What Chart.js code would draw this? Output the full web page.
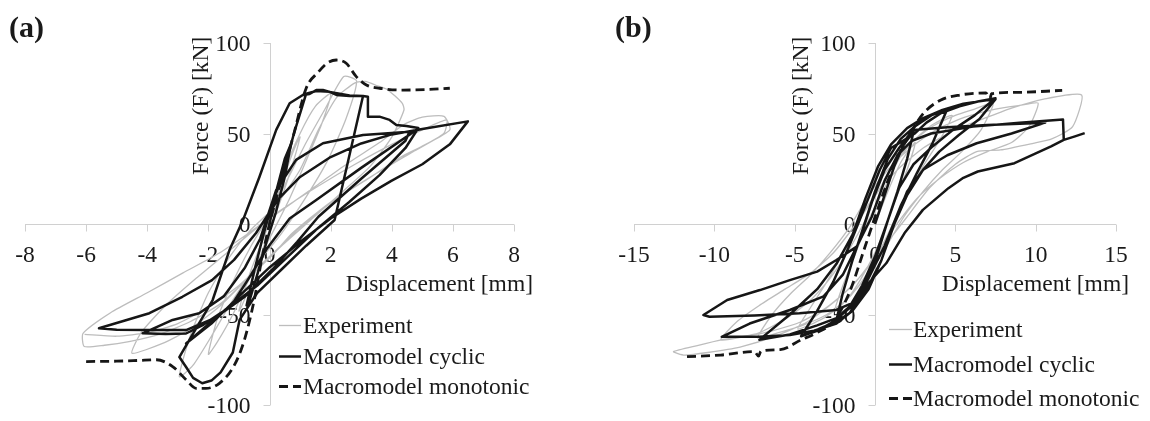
<!DOCTYPE html>
<html>
<head>
<meta charset="utf-8">
<script src="https://cdn.jsdelivr.net/npm/chart.js@4.4.1/dist/chart.umd.min.js"></script>
<style>
  html, body { margin: 0; padding: 0; background: #fff; }
  #wrap { position: relative; width: 1150px; height: 421px; overflow: hidden; }
  .panel { position: absolute; top: 0; width: 575px; height: 421px; }
</style>
</head>
<body>
<div id="wrap">
  <div class="panel" style="left:0"><canvas id="chartA" width="575" height="421"></canvas></div>
  <div class="panel" style="left:575px"><canvas id="chartB" width="575" height="421"></canvas></div>
</div>
<script>
// ---- data: [displacement mm, force kN] ----
const seriesLabels = ['Experiment', 'Macromodel cyclic', 'Macromodel monotonic'];
const forceTicks = [-100, -50, 0, 50, 100];
const dispTicksA = [-8, -6, -4, -2, 0, 2, 4, 6, 8];
const dispTicksB = [-15, -10, -5, 0, 5, 10, 15];

// panel (a)
const expA = [
  [0,0],[0.3,15],[0.6,32],[0.9,45],[1.0,48],[0.7,30],[0.3,10],[-0.1,-8],[-0.5,-28],[-0.9,-45],[-1.0,-48],[-0.7,-30],[-0.3,-12],[0.1,5],
  [0.5,30],[1.0,50],[1.5,65],[2.0,72],[1.7,55],[1.2,35],[0.6,12],[0,-8],[-0.6,-28],[-1.2,-50],[-1.7,-65],[-2.0,-72],[-1.7,-52],[-1.2,-32],[-0.6,-12],[0,5],
  [0.6,25],[1.2,45],[1.8,63],[2.43,81.5],[2.85,79],[2.5,58],[1.9,35],[1.2,15],[0.4,-5],[-0.4,-22],[-1.2,-42],[-1.9,-62],[-2.5,-78],[-2.95,-84.4],[-2.6,-62],[-2.0,-38],[-1.3,-18],[-0.6,-3],[0.2,10],
  [1.0,30],[1.6,52],[2.2,70],[2.8,78],[3.14,78.8],[3.5,76.5],[3.86,74.2],[4.34,66.8],[4.4,63],[4.0,48],[3.3,32],[2.4,18],[1.4,3],[0.4,-12],[-0.6,-28],[-1.6,-45],[-2.6,-58],[-3.5,-66],[-4.5,-71.4],[-4.2,-60],[-3.4,-45],[-2.4,-30],[-1.4,-16],[-0.4,-2],[0.6,10],
  [1.6,22],[2.6,34],[3.6,45],[4.4,55],[5.0,59],[5.71,59.5],[5.9,52],[5.0,43],[4.3,37],[3.14,24],[1.95,11.5],[0.75,-5],[0.16,-16],[-0.7,-30],[-1.6,-44],[-2.6,-54],[-3.6,-61],[-4.6,-65],[-5.4,-67],[-6.06,-67.7],[-6.1,-60.4],[-5.2,-49],[-4.0,-38],[-2.83,-27],[-1.64,-16],[-0.68,-5],[0.4,8],[1.6,21],[2.8,33],[4.0,44],[5.0,52],[5.8,57.5],[5.7,50],[4.7,40],[3.5,28],[2.2,14],[1.0,-2],[0.0,-18],[-1.0,-34],[-2.0,-46],[-3.0,-55],[-4.0,-60],[-5.0,-62],[-6.05,-61]
];
const cyclicA = [
  [0,0],[0.25,20],[0.5,36],[0.7,44],[0.5,26],[0.2,6],[-0.1,-10],[-0.4,-28],[-0.65,-42],[-0.75,-45],[-0.5,-26],[-0.2,-6],
  [0.1,12],[0.4,25],[0.8,50],[1.2,72],[1.53,73.5],[1.97,73],[2.62,71],[3.06,70.7],
  [2.13,2.2],[1.2,-12],[0.4,-25],[-0.4,-38],[-0.98,-53],[-1.2,-71],[-1.6,-82],[-1.9,-86.5],[-2.2,-88],[-2.5,-85],[-2.73,-79],[-2.95,-73.5],
  [-1.86,-42],[-1.31,-14.4],[-0.87,2],[-0.33,26],[0.22,52],[0.66,66.7],[1.09,71.3],[1.31,71.8],[1.53,74],[1.75,74],[1.97,73],[2.19,71.3],[2.62,70.7],[3.06,70.7],[3.22,70.3],[3.22,59.3],[3.6,59.3],[3.93,57.5],[4.15,54.7],[4.48,54.1],[4.87,53],
  [4.45,42],[3.6,27],[2.6,12],[1.6,-2],[0.6,-18],[-0.4,-34],[-1.4,-47],[-2.2,-56],[-2.73,-60.5],[-3.4,-60.8],[-4.15,-60.4],
  [-3.17,-53],[-2.3,-49.3],[-1.5,-40],[-0.8,-24],[-0.3,-8],[0.22,18.8],[0.87,35.4],[1.75,44.6],[3.06,49.2],[4.58,51],
  [4.45,46],[3.0,25],[1.6,4],[0.9,-10],[0.1,-25],[-0.8,-40],[-1.8,-52],[-2.73,-58.6],[-4.0,-58.6],[-5.0,-58.4],[-5.58,-57.6],
  [-3.93,-49.3],[-2.85,-40.2],[-1.88,-31],[-1.16,-19.8],[-0.44,-5],[0.27,13.4],[1.0,26],[2.0,37],[3.0,44.5],[4.0,49.5],[5.0,52.5],[6.49,56.7],
  [5.9,44],[5.0,33],[4.0,24],[3.0,14],[2.0,3],[1.0,-10],[0.0,-24],[-1.0,-40],[-1.9,-55],[-2.73,-66],
  [-1.2,-43.8],[-0.6,-28],[-0.1,-14],[0.66,3],[1.53,13.3],[3.0,31],[4.48,48.2],[4.8,52]
];
const monoA = [
  [-6.0,-76],[-5.0,-75.8],[-4.3,-75.4],[-3.7,-75],[-3.17,-78.8],[-2.73,-86],[-2.4,-90.8],[-2.08,-90.8],[-1.64,-88],[-1.15,-78],[-0.82,-64],[-0.5,-42],[-0.26,-20],
  [0,0],[0.4,25],[0.8,50],[1.2,75],[1.6,84],[1.9,89],[2.19,90.6],[2.51,88.8],[2.84,81.4],[3.17,76.8],[3.6,75],[4.36,74],[5.2,74.3],[5.9,75]
];

// panel (b)
const expB = [
  [0,0],[0.8,18],[1.6,34],[2.5,45],[2.0,30],[1.2,12],[0.4,-8],[-0.6,-26],[-1.6,-40],[-2.5,-48],[-2.0,-34],[-1.2,-16],[-0.4,2],
  [0.5,18],[1.5,36],[2.5,47],[3.6,55],[4.8,60],[4.0,46],[3.0,32],[2.0,16],[1.0,-2],[0.0,-20],[-1.0,-34],[-2.0,-44],[-3.2,-52],[-4.8,-58],[-4.0,-46],[-3.0,-32],[-2.0,-16],[-1.0,2],
  [0.2,18],[1.2,34],[2.4,46],[3.6,54],[5.0,60],[6.2,63.5],[7.36,66.8],[6.6,52],[5.4,40],[4.2,30],[3.0,18],[1.8,4],[0.6,-14],[-0.6,-30],[-1.8,-42],[-3.0,-50],[-4.5,-56],[-6.0,-60],[-7.3,-63],[-6.4,-50],[-5.2,-38],[-4.0,-28],[-2.8,-16],[-1.6,-2],
  [-0.4,16],[0.8,30],[2.2,42],[3.8,52],[5.6,59],[7.5,63.5],[9.0,65.5],[10.15,66.8],[9.6,54],[8.5,45],[7.0,40],[5.5,34],[4.0,25],[2.6,14],[1.2,-2],[0,-18],[-1.4,-34],[-3,-46],[-4.6,-54],[-6.4,-59],[-8,-62],[-9.6,-64],[-8.6,-54],[-7.2,-45],[-5.6,-36],[-4.0,-27],[-2.6,-16],[-1.2,0],
  [0,16],[1.4,30],[3,42],[5,52],[7,59],[8.5,64],[10.5,69],[12.86,71.3],[12.3,53.8],[11,47],[9.85,44.6],[7.8,40.9],[6.33,40],[5,33],[3.4,20],[2,4],[0.6,-12],[-0.8,-28],[-2.4,-42],[-4.2,-54],[-6.2,-62],[-8.4,-68],[-10.4,-71],[-11.85,-72.4],[-12.54,-70.5],[-11,-67],[-9.57,-64],[-7.3,-60.4],[-5.5,-52],[-4,-42],[-2.8,-30],[-1.6,-14],[-0.6,2]
];
const cyclicB = [
  [0,0],[0.6,16],[1.2,32],[1.8,44],[2.4,51],[2.0,36],[1.4,18],[0.8,2],[0.0,-18],[-0.8,-34],[-1.6,-46],[-2.4,-53],[-2.0,-38],[-1.4,-20],[-0.8,-4],
  [0.0,18],[0.8,36],[1.6,47],[2.5,54],[3.5,60],[4.5,63.5],[3.6,45],[2.6,28],[1.6,10],[0.6,-12],[-0.4,-30],[-1.4,-45],[-2.6,-54],[-3.6,-59],[-4.6,-62],[-3.6,-48],[-2.6,-32],[-1.6,-12],[-0.6,10],
  [0.3,30],[1.0,42],[1.84,46.5],[2.5,50.2],[3.2,56],[4.12,61.3],[5.26,65],[6.4,67.7],[7.5,69.5],
  [6.2,60],[4.85,52],[3.6,43],[2.4,33],[1.5,20],[0.8,2],[0.1,-18],[-0.6,-33],[-1.5,-45],[-2.4,-52],[-3.6,-56],[-5.3,-61],[-7.2,-64],
  [-5.3,-50],[-3.6,-36],[-2.4,-22],[-1.4,-6],[-0.6,14],[0.2,32],[1.0,44],[2.0,53],[3.0,58.5],[4.2,63],[5.5,66.5],[7.5,69],
  [6.5,58],[5.2,49],[4.0,40],[3.0,30],[2.0,16],[1.2,0],[0.4,-20],[-0.4,-36],[-1.4,-48],[-2.4,-55],[-3.8,-59],[-5.3,-61.3],[-7.2,-62.3],[-9.54,-62.3],
  [-7.8,-55],[-5.3,-47.5],[-3.2,-40],[-2.0,-28],[-1.0,-10],[-0.2,12],[0.6,30],[1.5,42],[2.37,52],[4.5,53.5],[7.0,54.7],[10.6,56],
  [8.5,50],[6.33,44.6],[4.5,38],[3.0,30],[2.0,18],[1.2,0],[0.4,-20],[-0.4,-34],[-1.0,-42],[-2.4,-47.5],[-4.7,-49.3],[-7.5,-50.5],[-10.3,-51.2],[-10.68,-50.3],
  [-9.2,-42],[-7.16,-36.5],[-5.3,-31],[-3.6,-26.3],[-2.4,-19.9],[-1.14,-12.5],[-0.2,4],[0.6,24],[1.4,38],[2.3,46],[3.5,50],[6.1,53.8],[9.0,56],[11.7,57.8],
  [11.75,46.5],[12.4,48.3],[13.05,50.2],
  null,
  [-3.5,-58],[-2.4,-54],[-1.56,-49],[-0.44,-33],[0.7,-21.7],[1.84,-5],[2.98,7.8],[4.57,19.8],[5.5,25.5],[6.4,29],[8.68,33.6],[10.96,42.9],[11.75,46.5]
];
const monoB = [
  [-11.7,-73.3],[-9.6,-72.4],[-7.5,-70.5],[-7.25,-73],[-7.1,-70.3],[-5.9,-69.4],[-4.6,-64],[-3.6,-60],[-2.6,-54],[-1.6,-38],[-0.6,-12],
  [0.4,14],[1.4,37],[2.2,50],[3.0,61],[4.1,68.5],[5.3,71.3],[6.9,72.4],[7.15,69],[7.25,72],[8.7,72.7],[11.65,73.8]
];

const FONT = '"Liberation Serif", "Times New Roman", serif';
const TEXT = '#1a1a1a';
const AXIS = '#d0d0d0';

const toPoints = (arr) => arr.map((p) => p ? { x: p[0], y: p[1] } : { x: null, y: null });

// axes crossing at the origin, titles, panel tag and legend
const crossAxes = {
  id: 'crossAxes',
  beforeDatasetsDraw(chart, args, opts) {
    const { ctx, chartArea: area } = chart;
    const { x, y } = chart.scales;
    const x0 = Math.round(x.getPixelForValue(0)) + 0.5;
    const y0 = Math.round(y.getPixelForValue(0)) + 0.5;
    ctx.save();
    ctx.strokeStyle = AXIS;
    ctx.lineWidth = 1;
    ctx.beginPath();
    ctx.moveTo(area.left, y0); ctx.lineTo(area.right, y0);
    ctx.moveTo(x0, area.top); ctx.lineTo(x0, area.bottom);
    opts.xTicks.forEach((v) => {
      const px = Math.round(x.getPixelForValue(v)) + 0.5;
      ctx.moveTo(px, y0); ctx.lineTo(px, y0 + 7);
    });
    opts.yTicks.forEach((v) => {
      const py = Math.round(y.getPixelForValue(v)) + 0.5;
      ctx.moveTo(x0, py); ctx.lineTo(x0 - 7, py);
    });
    ctx.stroke();

    ctx.fillStyle = TEXT;
    ctx.font = '23.5px ' + FONT;
    ctx.textBaseline = 'alphabetic';
    ctx.textAlign = 'center';
    opts.xTicks.forEach((v) => ctx.fillText(String(v), x.getPixelForValue(v), y0 + 37));
    ctx.textAlign = 'right';
    opts.yTicks.forEach((v) => ctx.fillText(String(v), x0 - 20, y.getPixelForValue(v) + 8));

    ctx.fillText(opts.xTitle, opts.xTitleRight, 291);
    ctx.save();
    ctx.translate(opts.yTitleX, 175);
    ctx.rotate(-Math.PI / 2);
    ctx.textAlign = 'left';
    ctx.fillText(opts.yTitle, 0, 0);
    ctx.restore();

    ctx.font = 'bold 30px ' + FONT;
    ctx.textAlign = 'left';
    ctx.fillText(opts.tag, opts.tagX, 37);
    ctx.restore();
  },
  afterDraw(chart, args, opts) {
    const { ctx } = chart;
    const lg = opts.legend;
    ctx.save();
    ctx.font = '23.5px ' + FONT;
    ctx.fillStyle = TEXT;
    ctx.textAlign = 'left';
    ctx.textBaseline = 'alphabetic';
    chart.data.datasets.forEach((ds, i) => {
      const by = lg.rows[i];
      ctx.strokeStyle = ds.borderColor;
      ctx.lineWidth = ds.borderWidth;
      ctx.setLineDash(ds.borderDash || []);
      ctx.beginPath();
      ctx.moveTo(lg.x0, by - 7.5);
      ctx.lineTo(lg.x1, by - 7.5);
      ctx.stroke();
      ctx.setLineDash([]);
      ctx.fillText(ds.label, lg.textX, by);
    });
    ctx.restore();
  }
};

function makeChart(id, exp, cyc, mono, xMin, xMax, pad, axisOpts) {
  const common = { showLine: true, pointRadius: 0, fill: false, borderJoinStyle: 'round' };
  return new Chart(document.getElementById(id), {
    type: 'scatter',
    data: {
      datasets: [
        // experiment at the bottom, monotonic next, cyclic model on top
        { ...common, label: seriesLabels[0], data: toPoints(exp), borderColor: '#bdbdbd', borderWidth: 1.3, tension: 0.2, order: 3 },
        { ...common, label: seriesLabels[1], data: toPoints(cyc), borderColor: '#161616', borderWidth: 2.5, tension: 0, order: 1 },
        { ...common, label: seriesLabels[2], data: toPoints(mono), borderColor: '#161616', borderWidth: 2.8, borderDash: [9, 5], cubicInterpolationMode: 'monotone', order: 2 }
      ]
    },
    options: {
      responsive: false,
      animation: false,
      events: [],
      devicePixelRatio: 1,
      layout: { autoPadding: false, padding: pad },
      scales: {
        x: { type: 'linear', min: xMin, max: xMax, display: false },
        y: { type: 'linear', min: -100, max: 100, display: false }
      },
      plugins: {
        legend: { display: false },
        tooltip: { enabled: false },
        crossAxes: axisOpts
      }
    },
    plugins: [crossAxes]
  });
}

makeChart('chartA', expA, cyclicA, monoA, -8, 8,
  { left: 25, right: 61, top: 43, bottom: 16 },
  {
    xTicks: dispTicksA, yTicks: forceTicks,
    xTitle: 'Displacement [mm]', xTitleRight: 533,
    yTitle: 'Force (F) [kN]', yTitleX: 208,
    tag: '(a)', tagX: 9,
    legend: { x0: 279, x1: 301, textX: 303, rows: [333, 364, 394] }
  });

makeChart('chartB', expB, cyclicB, monoB, -15, 15,
  { left: 59, right: 34, top: 43, bottom: 16 },
  {
    xTicks: dispTicksB, yTicks: forceTicks,
    xTitle: 'Displacement [mm]', xTitleRight: 554,
    yTitle: 'Force (F) [kN]', yTitleX: 233,
    tag: '(b)', tagX: 40,
    legend: { x0: 314, x1: 337, textX: 338, rows: [337, 372, 406] }
  });
</script>
</body>
</html>
